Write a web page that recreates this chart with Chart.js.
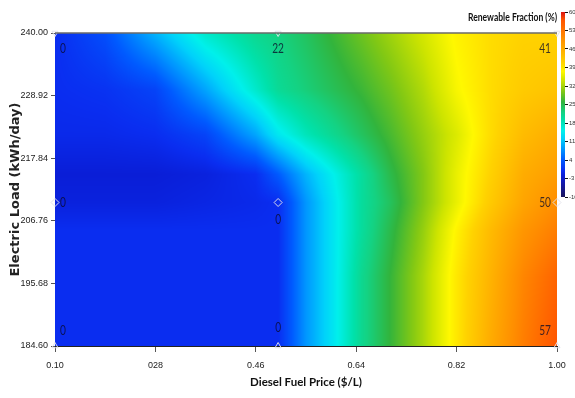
<!DOCTYPE html>
<html><head><meta charset="utf-8">
<script src="https://cdn.jsdelivr.net/npm/chart.js@4.4.0/dist/chart.umd.min.js"></script>
<style>
html,body{margin:0;padding:0;background:#fff;}
#wrap{position:relative;width:575px;height:398px;overflow:hidden;}
#main{position:absolute;left:0;top:0;width:575px;height:398px;}
#cb{position:absolute;left:555px;top:0;width:20px;height:210px;}
</style></head><body>
<div id="wrap"><canvas id="main" width="575" height="398"></canvas><canvas id="cb" width="20" height="210"></canvas></div>
<script>
// ---- data ----
const xTickValues = [0.10, 0.28, 0.46, 0.64, 0.82, 1.00];
const xTickLabels = ['0.10', '028', '0.46', '0.64', '0.82', '1.00'];
const yTickValues = [184.60, 195.68, 206.76, 217.84, 228.92, 240.00];
const yTickLabels = ['184.60', '195.68', '206.76', '217.84', '228.92', '240.00'];
const cbTicks = [-10, -3, 4, 11, 18, 25, 32, 39, 46, 53, 60];
const legendTitle = 'Renewable Fraction (%)';

// sampled points (labelled values)
const pointX = [0.10, 0.50, 1.00, 0.10, 0.50, 1.00, 0.10, 0.50, 1.00];
const pointY = [240, 240, 240, 210, 210, 210, 184.6, 184.6, 184.6];
const pointValues = [0, 22, 41, 0, 0, 50, 0, 0, 57];

// renewable fraction surface, estimated from the colours of the picture
const surfX = [0.10, 0.19, 0.28, 0.37, 0.46, 0.50, 0.55, 0.60, 0.65, 0.70, 0.76, 0.82, 0.88, 0.94, 1.00];
const surfY = [184.6, 197, 205, 210, 215, 222, 230, 240];
const surfRow184 = [0, 0, 0, 0, 0, 0, 8, 14, 21, 26, 32, 39, 46, 52, 57];
const surfRow197 = [0, 0, 0, 0, 0, 0, 8, 14, 21, 26, 32, 39, 45, 51, 55];
const surfRow205 = [0, 0, 0, 0, 0, 0, 8, 14, 20, 25, 31, 38, 44, 49, 52];
const surfRow210 = [-1.5, -1.5, -1.5, -1, -0.5, 0, 8, 14, 20, 24, 30, 36, 42, 47, 50];
const surfRow215 = [-2, -2, -2, -1.5, 0, 4, 10, 15, 20, 25, 30, 36, 41, 46, 48];
const surfRow222 = [-0.5, -0.5, 0, 2, 9, 14, 18, 21, 24, 27, 31, 35, 40, 44, 46];
const surfRow230 = [0, 0.5, 2, 9, 17, 20.5, 22.5, 24.5, 26.5, 29, 32.5, 37, 40, 42, 43];
const surfRow240 = [0, 3, 10, 17, 21, 22, 24, 26.5, 29, 31.5, 34.5, 38, 40, 41, 41];
const surfRows = [surfRow184, surfRow197, surfRow205, surfRow210, surfRow215, surfRow222, surfRow230, surfRow240];

// ---- colour map ----
const cmap = [
  [-10, [26, 20, 90]], [-5, [20, 25, 170]], [-2, [10, 30, 215]], [0, [10, 45, 240]],
  [4, [0, 90, 255]], [8, [0, 150, 255]], [12, [0, 210, 250]], [15, [0, 240, 235]],
  [19, [0, 225, 170]], [22, [20, 210, 130]], [26, [50, 180, 60]], [30, [130, 200, 20]],
  [34, [205, 228, 0]], [37.5, [255, 248, 0]], [41, [255, 210, 0]], [46, [255, 172, 0]],
  [50, [255, 142, 0]], [55, [255, 100, 0]], [57, [255, 85, 0]], [60, [220, 20, 20]]
];
function colorFor(v) {
  if (v <= cmap[0][0]) return cmap[0][1];
  for (let i = 1; i < cmap.length; i++) {
    if (v <= cmap[i][0]) {
      const [a, ca] = cmap[i - 1], [b, cb] = cmap[i];
      const t = (v - a) / (b - a);
      return [ca[0] + (cb[0] - ca[0]) * t, ca[1] + (cb[1] - ca[1]) * t, ca[2] + (cb[2] - ca[2]) * t];
    }
  }
  return cmap[cmap.length - 1][1];
}
function seg(arr, v) {
  let i = 0;
  while (i < arr.length - 2 && v > arr[i + 1]) i++;
  const t = (v - arr[i]) / (arr[i + 1] - arr[i]);
  return [i, Math.max(0, Math.min(1, t))];
}
function surface(xv, yv) {
  const [i, tx] = seg(surfX, xv);
  const [j, ty] = seg(surfY, yv);
  const a = surfRows[j][i], b = surfRows[j][i + 1], c = surfRows[j + 1][i], d = surfRows[j + 1][i + 1];
  return (a * (1 - tx) + b * tx) * (1 - ty) + (c * (1 - tx) + d * tx) * ty;
}

function condensedText(ctx, text, x, y, font, align, scaleX) {
  ctx.save();
  ctx.font = font;
  ctx.textBaseline = 'middle';
  ctx.textAlign = align;
  ctx.translate(x, y);
  ctx.scale(scaleX, 1);
  ctx.fillText(text, 0, 0);
  ctx.restore();
}

const heatPlugin = {
  id: 'heat',
  beforeDraw(chart) {
    const {ctx, chartArea: a, scales: {x, y}} = chart;
    const L = Math.round(a.left), T = Math.round(a.top);
    const w = Math.round(a.right) - L, h = Math.round(a.bottom) - T;
    const img = ctx.createImageData(w, h);
    for (let j = 0; j < h; j++) {
      const yv = y.getValueForPixel(T + j + 0.5);
      for (let i = 0; i < w; i++) {
        const xv = x.getValueForPixel(L + i + 0.5);
        const c = colorFor(surface(xv, yv));
        const k = (j * w + i) * 4;
        img.data[k] = c[0]; img.data[k + 1] = c[1]; img.data[k + 2] = c[2]; img.data[k + 3] = 255;
      }
    }
    ctx.putImageData(img, L, T);
  },
  afterDraw(chart) {
    const {ctx, chartArea: a} = chart;
    ctx.save();
    ctx.strokeStyle = '#6a6a6a';
    ctx.lineWidth = 1.5;
    ctx.beginPath(); ctx.moveTo(a.left, a.top); ctx.lineTo(a.right, a.top); ctx.stroke();
    ctx.restore();
    // colour-bar title, right aligned with the plot
    ctx.save();
    ctx.fillStyle = '#111';
    const f = 'bold 11px Lato, "Liberation Sans", sans-serif';
    ctx.font = f;
    const wTxt = ctx.measureText(legendTitle).width;
    condensedText(ctx, legendTitle, a.right, 17, f, 'right', Math.min(1, 89 / wTxt));
    ctx.restore();
  }
};

const labelPlugin = {
  id: 'vlabels',
  afterDatasetsDraw(chart) {
    const {ctx} = chart;
    const meta = chart.getDatasetMeta(0);
    ctx.save();
    ctx.fillStyle = 'rgba(10,10,40,0.78)';
    meta.data.forEach((pt, i) => {
      const col = i % 3, row = Math.floor(i / 3);
      let dx = 0, dy = 0, align = 'center';
      if (col === 0) { align = 'left'; dx = 5; }
      else if (col === 2) { align = 'right'; dx = -6; }
      if (row === 0) dy = 16;
      else if (row === 1) dy = (col === 1) ? 17 : 0;
      else dy = (col === 1) ? -18 : -15;
      condensedText(ctx, String(pointValues[i]), pt.x + dx, pt.y + dy, '13px Lato, "Liberation Sans", sans-serif', align, 0.78);
    });
    ctx.restore();
  }
};

const tickFont = {family: '"Liberation Sans", Arial, sans-serif', size: 9};

new Chart(document.getElementById('main'), {
  type: 'scatter',
  data: {
    datasets: [{
      data: pointX.map((xv, i) => ({x: xv, y: pointY[i]})),
      pointStyle: c => (pointY[c.dataIndex] === 210 ? 'rectRot' : 'triangle'),
      rotation: c => (pointY[c.dataIndex] === 240 ? 180 : 0),
      radius: c => (pointY[c.dataIndex] === 210 ? 4 : 3.5),
      borderColor: 'rgba(225,225,235,0.95)',
      backgroundColor: 'rgba(0,0,0,0)',
      borderWidth: 1,
      clip: false
    }]
  },
  options: {
    responsive: false,
    animation: false,
    layout: {padding: {left: 0, right: 18, top: 33, bottom: 0}},
    plugins: {
      legend: {display: false},
      tooltip: {enabled: false},
      title: {display: false}
    },
    scales: {
      x: {
        type: 'linear', min: 0.10, max: 1.00,
        afterBuildTicks: s => { s.ticks = xTickValues.map(v => ({value: v})); },
        afterFit: s => { s.height = 52; },
        ticks: {callback: (v, i) => xTickLabels[i], font: tickFont, color: '#222', padding: 8, maxRotation: 0, autoSkip: false},
        grid: {drawOnChartArea: false, tickLength: 6, color: '#555'},
        border: {display: true, color: '#222', width: 1},
        title: {display: true, text: 'Diesel Fuel Price ($/L)', font: {family: 'Lato, "Liberation Sans", sans-serif', size: 11.5, weight: 'bold'}, color: '#111', padding: {top: 0, bottom: 9}}
      },
      y: {
        type: 'linear', min: 184.6, max: 240,
        afterBuildTicks: s => { s.ticks = yTickValues.map(v => ({value: v})); },
        afterFit: s => { s.width = 55; },
        ticks: {callback: (v, i) => yTickLabels[i], font: tickFont, color: '#222', padding: 3, autoSkip: false},
        grid: {drawOnChartArea: false, tickLength: 4, color: '#555'},
        border: {display: false},
        title: {display: true, text: 'Electric Load (kWh/day)', font: {family: '"DejaVu Sans", sans-serif', size: 13, weight: 'bold'}, color: '#222', padding: {top: 8, bottom: 0}}
      }
    }
  },
  plugins: [heatPlugin, labelPlugin]
});

const cbPlugin = {
  id: 'cbar',
  beforeDraw(chart) {
    const {ctx, chartArea: a, scales: {y}} = chart;
    for (let py = Math.round(a.top); py < Math.round(a.bottom); py++) {
      const c = colorFor(y.getValueForPixel(py + 0.5));
      ctx.fillStyle = `rgb(${c[0] | 0},${c[1] | 0},${c[2] | 0})`;
      ctx.fillRect(a.left, py, a.right - a.left, 1);
    }
  }
};

new Chart(document.getElementById('cb'), {
  type: 'scatter',
  data: {datasets: []},
  options: {
    responsive: false,
    animation: false,
    layout: {padding: {left: 6, top: 12, bottom: 13, right: 0}},
    plugins: {legend: {display: false}, tooltip: {enabled: false}},
    scales: {
      x: {display: false, min: 0, max: 1},
      y: {
        position: 'right', min: -10, max: 60,
        afterBuildTicks: s => { s.ticks = cbTicks.map(v => ({value: v})); },
        afterFit: s => { s.width = 10; },
        ticks: {font: {family: '"Liberation Sans", sans-serif', size: 6}, color: '#333', padding: 1, autoSkip: false},
        grid: {drawOnChartArea: false, tickLength: 3, color: '#111'},
        border: {display: false}
      }
    }
  },
  plugins: [cbPlugin]
});
</script>
</body></html>
